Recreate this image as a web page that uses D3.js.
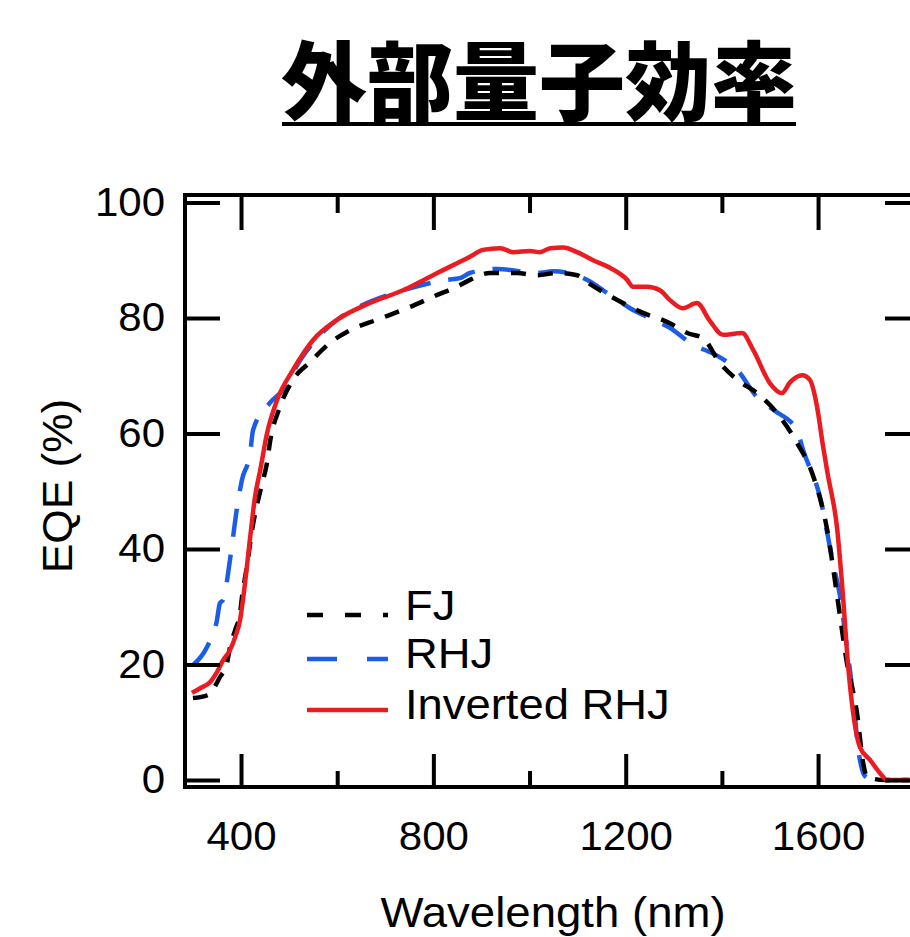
<!DOCTYPE html>
<html>
<head>
<meta charset="utf-8">
<script src="https://cdn.jsdelivr.net/npm/d3@7"></script>
<style>
  html, body { margin: 0; padding: 0; background: #fff; }
  svg { display: block; }
</style>
</head>
<body>
<div id="vis"></div>
<script>
'use strict';

// [wavelength nm, EQE %]
var FJ = [
  [300, 14.2], [331, 14.7], [356, 17.8], [371, 20.3], [377, 23], [388, 26], [398, 28.9],
  [402, 31.7], [412, 36.9], [423, 43.3], [444, 51.4], [454, 54.9], [460, 58.4], [481, 64.6],
  [508, 69.3], [544, 72.4], [585, 75.7], [627, 77.9], [683, 79.7], [751, 81.9], [808, 84],
  [849, 85.4], [876, 86.6], [918, 87.8], [974, 87.8], [1016, 87.4], [1057, 87.8], [1099, 87.4],
  [1120, 86.2], [1174, 83.5], [1236, 80.9], [1292, 79.1], [1328, 77.4], [1361, 76.5],
  [1396, 72.2], [1432, 69.3], [1473, 67], [1515, 63.5], [1556, 58.4], [1590, 52.6],
  [1619, 43.3], [1640, 31.7], [1660, 20.3], [1681, 11.6], [1694, 2.9], [1702, 0.5],
  [1740, 0], [1790, 0]
];
var RHJ = [
  [300, 19.9], [329, 23], [350, 27.7], [356, 30.6], [363, 31.2], [377, 38.1], [392, 47.3],
  [402, 52], [419, 56.6], [425, 60.6], [460, 65.3], [487, 67.5], [523, 72.7], [550, 75.7],
  [600, 79.7], [633, 81.4], [737, 84.8], [828, 86.6], [855, 86.9], [876, 87.8], [932, 88.5],
  [1016, 87.8], [1049, 88.1], [1120, 86.6], [1167, 84], [1209, 81.7], [1244, 80.2],
  [1292, 78.3], [1334, 75.7], [1396, 73.2], [1432, 71], [1473, 66.3], [1507, 64.1],
  [1556, 60.6], [1569, 57.1], [1604, 49], [1631, 37.6], [1646, 31.7], [1660, 23],
  [1673, 14.4], [1683, 5.7], [1694, 1.2], [1700, 0.5]
];
var INV_RHJ = [
  [298, 15.1], [315, 15.9], [336, 17], [350, 18.7], [363, 20.8], [377, 22.5], [388, 24.8],
  [398, 27.7], [404, 31.2], [419, 42], [429, 49], [440, 53.7], [454, 60], [475, 65.8],
  [508, 71], [550, 76.2], [600, 79.7], [668, 82.6], [737, 84.8], [808, 87.8], [876, 90.6],
  [903, 91.8], [939, 92.1], [966, 91.4], [1001, 91.6], [1022, 91.4], [1043, 92.1],
  [1070, 92.2], [1099, 91.4], [1132, 90], [1167, 88.7], [1203, 86.6], [1215, 85.4],
  [1244, 85.4], [1271, 84.8], [1292, 83.1], [1319, 81.7], [1348, 82.6], [1375, 79.5],
  [1402, 77.1], [1442, 77.4], [1465, 74.5], [1500, 68.7], [1525, 67], [1542, 68.9],
  [1567, 70.1], [1583, 69.3], [1598, 64.6], [1610, 58], [1620, 53], [1640, 43.3],
  [1652, 31.7], [1662, 20.3], [1673, 11.6], [1687, 5.7], [1708, 3.5], [1729, 1.2],
  [1744, 0], [1790, 0]
];

var SERIES_NAMES = ['FJ', 'RHJ', 'Inverted RHJ'];
var X_MAJOR = [400, 800, 1200, 1600];
var X_MINOR = [600, 1000, 1400, 1800];
var Y_TICKS = [0, 20, 40, 60, 80, 100];
var TITLE = '外部量子効率';
var X_LABEL = 'Wavelength (nm)';
var Y_LABEL = 'EQE (%)';

(function () {
  var WIDTH = 910;
  var HEIGHT = 937;
  var LEFT = 185, RIGHT = 920, TOP = 195, BOTTOM = 787;
  var FONT = '"Liberation Sans", Arial, Helvetica, sans-serif';
  var RED = '#ea1c22';
  var BLUE = '#1b5de6';
  // the source figure's lettering is a bit wider than Arial
  var TICK_STRETCH = 1.05;

  var svg = d3.select('#vis').append('svg')
    .attr('width', WIDTH)
    .attr('height', HEIGHT)
    .style('overflow', 'hidden');

  var x = d3.scaleLinear().domain([283.5, 1812]).range([LEFT, RIGHT]);
  var y = d3.scaleLinear().domain([-1.2, 101.3]).range([BOTTOM, TOP]);

  // stretched text placed at (px, py)
  var addText = function (px, py, str, size, sx, anchor, rot) {
    return svg.append('text')
      .attr('transform', 'translate(' + px + ',' + py + ')' +
        (rot ? ' rotate(' + rot + ')' : '') + ' scale(' + sx + ',1)')
      .attr('text-anchor', anchor || 'start')
      .style('font-family', FONT)
      .style('font-size', size + 'px')
      .text(str);
  };

  // title, underlined
  svg.append('text')
    .attr('x', 539)
    .attr('y', 114)
    .attr('text-anchor', 'middle')
    .style('font-family', '"Noto Sans CJK JP", "Noto Sans CJK SC", sans-serif')
    .style('font-weight', 900)
    .style('font-size', '86px')
    .text(TITLE);
  svg.append('line')
    .attr('x1', 282).attr('x2', 796)
    .attr('y1', 124).attr('y2', 124)
    .attr('stroke', '#000')
    .attr('stroke-width', 4);

  // curves
  svg.append('clipPath').attr('id', 'plot-clip')
    .append('rect')
    .attr('x', LEFT).attr('y', TOP)
    .attr('width', RIGHT - LEFT).attr('height', BOTTOM - TOP);

  var line = d3.line()
    .x(function (d) { return x(d[0]); })
    .y(function (d) { return y(d[1]); })
    .curve(d3.curveMonotoneX);

  var curves = [
    { data: RHJ, color: BLUE, dash: '28,18' },
    { data: FJ, color: '#000', dash: '15,12' },
    { data: INV_RHJ, color: RED, dash: null }
  ];
  var g = svg.append('g').attr('clip-path', 'url(#plot-clip)');
  curves.forEach(function (c) {
    g.append('path')
      .attr('d', line(c.data))
      .attr('fill', 'none')
      .attr('stroke', c.color)
      .attr('stroke-width', 4.5)
      .attr('stroke-linejoin', 'round')
      .attr('stroke-dasharray', c.dash);
  });

  // axes: ticks point inwards on all four sides
  var styleAxis = function (sel) {
    sel.select('.domain').remove();
    sel.selectAll('.tick line').attr('stroke', '#000').attr('stroke-width', 4);
    sel.selectAll('.tick text')
      .attr('fill', '#000')
      .style('font-family', FONT)
      .style('font-size', '40px');
  };
  var noLabel = function () { return ''; };

  svg.append('g').attr('transform', 'translate(0,' + BOTTOM + ')')
    .call(d3.axisBottom(x).tickValues(X_MAJOR).tickSize(-33).tickPadding(35)
      .tickFormat(d3.format('d')))
    .call(styleAxis)
    .selectAll('.tick text')
    .attr('transform', 'scale(' + TICK_STRETCH + ',1)');
  svg.append('g').attr('transform', 'translate(0,' + BOTTOM + ')')
    .call(d3.axisBottom(x).tickValues(X_MINOR).tickSize(-16).tickFormat(noLabel))
    .call(styleAxis);
  svg.append('g').attr('transform', 'translate(0,' + TOP + ')')
    .call(d3.axisTop(x).tickValues(X_MAJOR).tickSize(-35).tickFormat(noLabel))
    .call(styleAxis);
  svg.append('g').attr('transform', 'translate(0,' + TOP + ')')
    .call(d3.axisTop(x).tickValues(X_MINOR).tickSize(-18).tickFormat(noLabel))
    .call(styleAxis);
  svg.append('g').attr('transform', 'translate(' + LEFT + ',0)')
    .call(d3.axisLeft(y).tickValues(Y_TICKS).tickSize(-35).tickPadding(20))
    .call(styleAxis)
    .selectAll('.tick text')
    .attr('x', -20 / TICK_STRETCH)
    .attr('transform', 'scale(' + TICK_STRETCH + ',1)');
  svg.append('g').attr('transform', 'translate(' + RIGHT + ',0)')
    .call(d3.axisRight(y).tickValues(Y_TICKS).tickSize(-35).tickFormat(noLabel))
    .call(styleAxis);

  // frame
  svg.append('rect')
    .attr('x', LEFT).attr('y', TOP)
    .attr('width', RIGHT - LEFT).attr('height', BOTTOM - TOP)
    .attr('fill', 'none')
    .attr('stroke', '#000')
    .attr('stroke-width', 4);

  // axis titles
  addText(553, 927, X_LABEL, 42, 1.085, 'middle');
  addText(72, 486, Y_LABEL, 42, 1.055, 'middle', -90);

  // legend
  var legend = [
    { name: SERIES_NAMES[0], color: '#000', dash: '16,22', ly: 615, ty: 620 },
    { name: SERIES_NAMES[1], color: BLUE, dash: '30,30', ly: 659, ty: 668 },
    { name: SERIES_NAMES[2], color: RED, dash: null, ly: 710, ty: 719 }
  ];
  legend.forEach(function (d) {
    svg.append('line')
      .attr('x1', 307).attr('x2', 388)
      .attr('y1', d.ly).attr('y2', d.ly)
      .attr('stroke', d.color)
      .attr('stroke-width', 4.5)
      .attr('stroke-dasharray', d.dash);
    addText(405, d.ty, d.name, 42, 1.08);
  });
})();
</script>
</body>
</html>
